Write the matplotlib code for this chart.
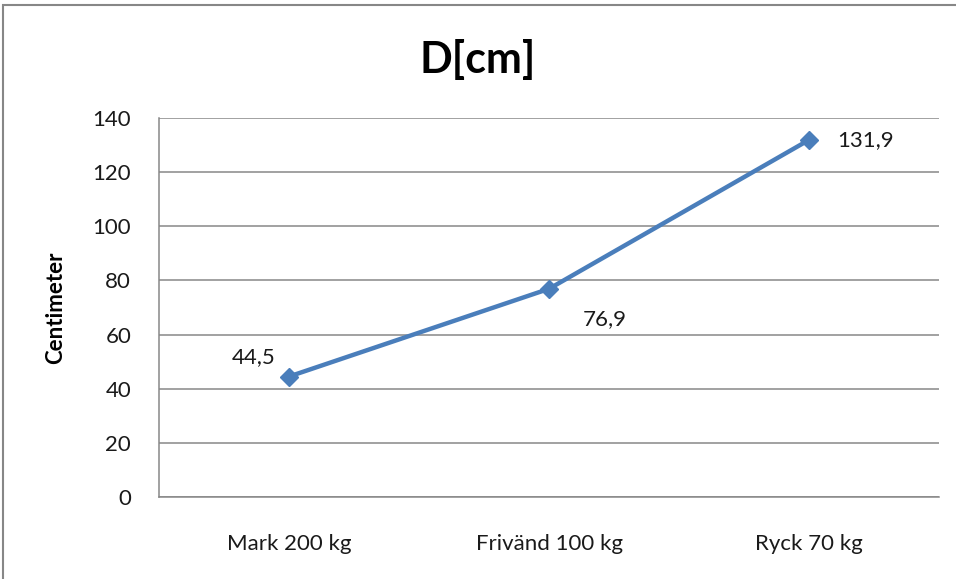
import matplotlib
matplotlib.use("Agg")
import matplotlib.pyplot as plt
from matplotlib.patches import Rectangle

categories = ["Mark 200 kg", "Frivänd 100 kg", "Ryck 70 kg"]
values = [44.5, 76.9, 131.9]
value_labels = ["44,5", "76,9", "131,9"]
y_ticks = [0, 20, 40, 60, 80, 100, 120, 140]

plt.rcParams['font.family'] = ['Lato', 'DejaVu Sans']

W, H = 956, 579
fig = plt.figure(figsize=(W / 100, H / 100), dpi=100)
ax = fig.add_axes([159 / W, 1 - 497 / H, (939 - 159) / W, (497 - 118) / H])

x = list(range(len(categories)))
line_color = "#4A7EBB"
ax.plot(x, values, color=line_color, lw=3.2, marker="D", ms=9.5,
        markerfacecolor=line_color, markeredgecolor=line_color, zorder=3)

ax.set_xlim(-0.5, len(categories) - 0.5)
ax.set_ylim(0, 140)
ax.set_yticks(y_ticks)
ax.set_xticks(x)
ax.set_xticklabels(categories)
ax.tick_params(axis="both", length=0, labelsize=16, colors="#1a1a1a")
ax.tick_params(axis="y", pad=20)
ax.tick_params(axis="x", pad=27)
ax.grid(axis="y", color="#878787", lw=1.1)
ax.set_axisbelow(True)
for side in ("top", "right"):
    ax.spines[side].set_visible(False)
for side in ("left", "bottom"):
    ax.spines[side].set_color("#878787")
    ax.spines[side].set_linewidth(1.1)

ax.set_ylabel("Centimeter", fontsize=16, fontweight="bold")
ax.yaxis.set_label_coords((66 - 159) / (939 - 159), 0.5)

# data labels
offsets = [(-10, 14), (24, -22), (20, 0)]
aligns = [("right", "center"), ("left", "center"), ("left", "center")]
for xi, v, lab, off, (ha, va) in zip(x, values, value_labels, offsets, aligns):
    ax.annotate(lab, (xi, v), xytext=off, textcoords="offset points",
                ha=ha, va=va, fontsize=16, color="#1a1a1a")

fig.text(0.5, 1 - 60 / H, "D[cm]", ha="center", va="center",
         fontsize=31, fontweight="bold")

# chart frame (left and top edges fall inside the canvas)
fig.patches.append(Rectangle((3 / W, -0.1), 1.2, 1.1 - 5 / H,
                             transform=fig.transFigure, fill=False,
                             edgecolor="#878787", lw=1.5, clip_on=False))

fig.savefig("out.png", dpi=100)
